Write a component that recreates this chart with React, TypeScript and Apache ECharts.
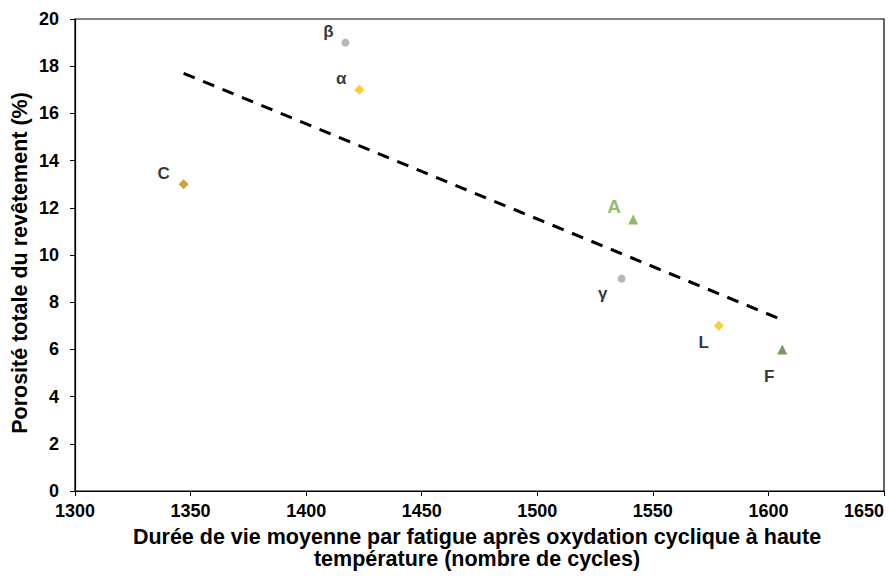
import React, { useEffect, useRef } from "react";
import * as echarts from "echarts";

// Data
const pointNames = ["β", "α", "C", "A", "γ", "L", "F"];
const lifeCycles = [1417, 1423, 1347, 1541.5, 1536.5, 1578.5, 1606];
const porosity = [19, 17, 13, 11.5, 9, 7, 6];
const trendX = [1347, 1606];
const trendY = [17.7, 7.25];
const xMin = 1300, xMax = 1650, xStep = 50;
const yMin = 0, yMax = 20, yStep = 2;
const xTitleLines = [
  "Durée de vie moyenne par fatigue après oxydation cyclique à haute",
  "température (nombre de cycles)",
];
const yTitle = "Porosité totale du revêtement (%)";

// Styles
const symbols = ["circle", "diamond", "diamond", "triangle", "circle", "diamond", "triangle"];
const symbolSizes = [8, 10, 10, 10, 8, 10, 10];
const colors = ["#a5a5a5", "#ffc000", "#bf9000", "#70ad47", "#a5a5a5", "#ffc000", "#548235"];
const labelColors = ["#000", "#000", "#000", "#70ad47", "#000", "#000", "#000"];
const labelSizes = [17, 17, 17, 19, 17, 17, 17];
const labelOffsets = [[-17, -11], [-18, -11], [-20, -11], [-19, -13], [-19, 15], [-15, 17], [-13, 27]];

const FONT = "'Liberation Sans', Arial, sans-serif";

export default function App() {
  const ref = useRef<HTMLDivElement>(null);
  useEffect(() => {
    if (!ref.current) return;
    const chart = echarts.init(ref.current, null, { renderer: "svg" });
    const gridLeft = 75, gridRight = 6, gridTop = 19, gridBottom = 89;
    const pointSeries = pointNames.map((name, i) => ({
      type: "scatter",
      name,
      data: [[lifeCycles[i], porosity[i]]],
      symbol: symbols[i],
      symbolSize: symbolSizes[i],
      itemStyle: { color: colors[i] },
      label: {
        show: true,
        formatter: name,
        position: "inside",
        offset: labelOffsets[i],
        color: labelColors[i],
        fontSize: labelSizes[i],
        fontWeight: "bold",
        fontFamily: FONT,
      },
      z: 3,
    }));
    chart.setOption({
      animation: false,
      backgroundColor: "#fff",
      grid: {
        left: gridLeft, right: gridRight, top: gridTop, bottom: gridBottom,
        show: true, borderColor: "#000", borderWidth: 1.2,
      },
      xAxis: {
        type: "value", min: xMin, max: xMax, interval: xStep,
        axisLine: { show: true, lineStyle: { color: "#000", width: 1.2 } },
        axisTick: { show: true, inside: false, length: 5, lineStyle: { color: "#000" } },
        splitLine: { show: false },
        axisLabel: {
          color: "#000", fontSize: 18, fontWeight: "bold", fontFamily: FONT, margin: 11,
          formatter: (v: number) => String(v),
          alignMaxLabel: "right",
        },
      },
      yAxis: {
        type: "value", min: yMin, max: yMax, interval: yStep,
        axisLine: { show: true, lineStyle: { color: "#000", width: 1.2 } },
        axisTick: { show: true, inside: false, length: 5, lineStyle: { color: "#000" } },
        splitLine: { show: false },
        axisLabel: {
          color: "#000", fontSize: 18, fontWeight: "bold", fontFamily: FONT, margin: 16,
          formatter: (v: number) => String(v),
        },
      },
      graphic: [
        ...xTitleLines.map((line, i) => ({
          type: "text",
          x: 477,
          y: 537 + i * 22,
          style: {
            text: line,
            fill: "#000",
            font: `bold 21.5px ${FONT}`,
            textAlign: "center",
            textVerticalAlign: "middle",
          },
        })),
        {
          type: "text",
          x: 20,
          y: 263,
          rotation: Math.PI / 2,
          style: {
            text: yTitle,
            fill: "#000",
            font: `bold 21.5px ${FONT}`,
            textAlign: "center",
            textVerticalAlign: "middle",
          },
        },
      ],
      series: [
        {
          type: "line",
          data: trendX.map((x, i) => [x, trendY[i]]),
          showSymbol: false,
          symbol: "none",
          lineStyle: { color: "#000", width: 3, type: [12, 9] },
          z: 2,
        },
        ...pointSeries,
      ],
    });
    return () => chart.dispose();
  }, []);
  return <div ref={ref} style={{ width: 890, height: 580, position: "absolute", left: 0, top: 0 }} />;
}
